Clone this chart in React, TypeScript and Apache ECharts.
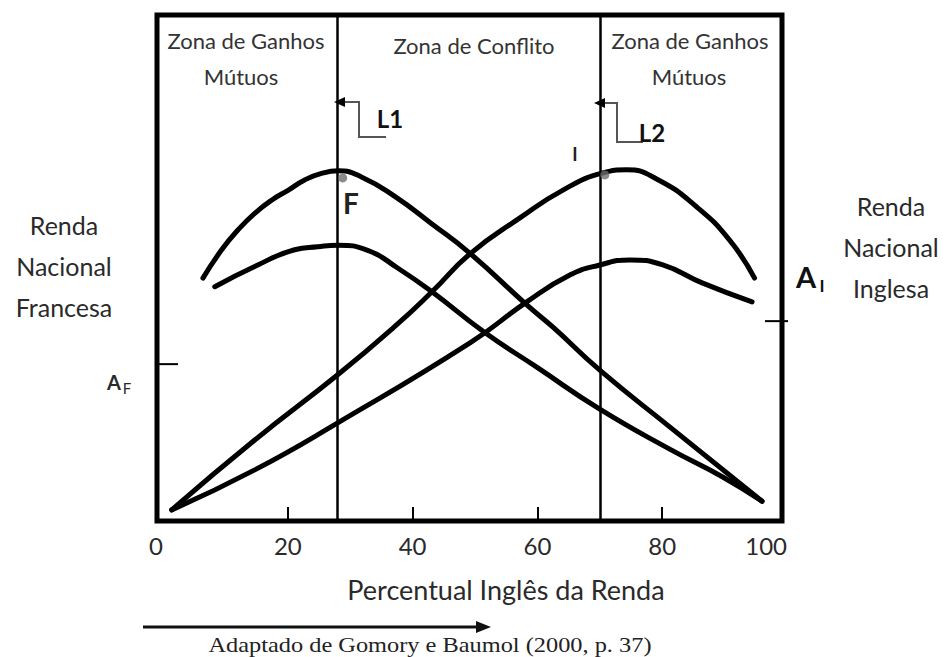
import React, { useEffect, useRef } from "react";
import * as echarts from "echarts";

// x: Percentual Inglês da Renda (0-100); y: renda nacional (arbitrary units 0-100)
const X_TICKS = [20, 40, 60, 80];
const X_LABELS = [0, 20, 40, 60, 80, 100];

const FR_UPPER: number[][] = [
  [6.4, 48.0], [9.4, 53.6], [12.0, 57.5], [14.7, 60.8], [17.4, 63.4], [20.1, 65.4],
  [22.7, 67.4], [25.4, 68.7], [28.1, 69.2], [31.8, 68.0], [37.2, 64.1], [43.0, 58.8],
  [49.2, 52.9], [58.3, 42.7], [62.5, 38.3], [70.0, 29.8], [81.2, 18.6], [96.0, 3.9],
];
const FR_LOWER: number[][] = [
  [8.3, 46.3], [14.7, 50.3], [21.1, 53.6], [24.8, 54.2], [28.0, 54.5], [32.8, 53.5],
  [37.6, 50.0], [43.1, 45.3], [51.4, 37.4], [59.9, 30.4], [70.0, 22.1], [81.2, 14.2],
  [89.7, 8.7], [96.0, 3.9],
];
const EN_UPPER: number[][] = [
  [1.4, 2.2], [14.7, 16.0], [28.0, 28.9], [37.2, 38.5], [43.1, 45.3], [49.2, 52.8],
  [57.2, 59.9], [64.1, 65.4], [70.5, 68.8], [74.3, 69.4], [79.1, 67.6], [85.5, 62.1],
  [90.8, 55.5], [94.8, 48.0],
];
const EN_LOWER: number[][] = [
  [1.4, 2.2], [14.7, 10.1], [28.0, 19.4], [49.2, 35.2], [58.3, 43.3], [65.2, 48.6],
  [70.0, 50.6], [74.8, 51.6], [80.1, 50.6], [86.5, 47.0], [94.4, 43.3],
];
const LIMITS = [28, 70]; // L1, L2
const POINT_F = [28.8, 67.8];
const POINT_I = [70.8, 68.4];
const A_F = 31.0;
const A_I = 39.5;

const FONT = "Lato";
const TXT = "#2a2a2a";

function curve(name: string, data: number[][]) {
  return {
    name,
    type: "line",
    data,
    smooth: 0.5,
    symbol: "none",
    lineStyle: { color: "#000", width: 5, cap: "round", join: "round" },
    z: 3,
  };
}

function txt(text: string, x: number, y: number, size: number, extra: any = {}, el: any = {}) {
  return {
    type: "text",
    x,
    y,
    z: 10,
    ...el,
    style: {
      text,
      fill: TXT,
      fontSize: size,
      fontFamily: FONT,
      align: "center",
      verticalAlign: "middle",
      ...extra,
    },
  };
}

const option: any = {
  animation: false,
  backgroundColor: "#fff",
  grid: { left: 163, right: 157, top: 15, bottom: 136 },
  xAxis: {
    type: "value",
    min: 0,
    max: 100,
    interval: 20,
    axisLine: { show: false },
    splitLine: { show: false },
    axisTick: {
      show: true,
      inside: true,
      length: 14,
      customValues: X_TICKS,
      lineStyle: { color: "#000", width: 2 },
    },
    axisLabel: {
      customValues: X_LABELS,
      margin: 12,
      fontSize: 24,
      fontFamily: FONT,
      color: TXT,
      alignMinLabel: "right",
      alignMaxLabel: "right",
    },
  },
  yAxis: { type: "value", min: 0, max: 100, show: false },
  series: [
    curve("Renda Francesa (alta)", FR_UPPER),
    curve("Renda Francesa (baixa)", FR_LOWER),
    curve("Renda Inglesa (alta)", EN_UPPER),
    curve("Renda Inglesa (baixa)", EN_LOWER),
    {
      type: "line",
      data: [],
      markLine: {
        silent: true,
        symbol: "none",
        label: { show: false },
        lineStyle: { color: "#000", width: 2.5, type: "solid" },
        data: LIMITS.map((v) => ({ xAxis: v })),
      },
      z: 2,
    },
    {
      type: "scatter",
      data: [POINT_F, POINT_I],
      symbolSize: 9,
      itemStyle: { color: "#6e6e6e" },
      z: 5,
    },
  ],
  graphic: [
    {
      type: "rect",
      z: 4,
      shape: { x: 157, y: 15, width: 625, height: 506 },
      style: { fill: "none", stroke: "#000", lineWidth: 5 },
    },
    txt("Zona de Ganhos", 246, 40, 22, { fill: "#333" }),
    txt("Mútuos", 241, 76, 22, { fill: "#333" }),
    txt("Zona de Conflito", 474, 45, 22, { fill: "#333" }),
    txt("Zona de Ganhos", 690, 40, 22, { fill: "#333" }),
    txt("Mútuos", 689, 76, 22, { fill: "#333" }),
    txt("Renda\nNacional\nFrancesa", 64, 266, 25, { lineHeight: 41 }),
    txt("Renda\nNacional\nInglesa", 891, 247, 25, { lineHeight: 41 }),
    txt("A", 114, 382, 20, { fontWeight: "bold" }),
    txt("F", 127, 388, 15),
    txt("A", 806, 276, 29, { fontWeight: "bold", fill: "#111" }),
    txt("I", 822, 285, 17, { fontWeight: "bold", fill: "#111" }),
    txt("F", 351, 203, 28, { fontWeight: "bold", fill: "#222" }),
    txt("I", 575, 154, 18, { fontWeight: "bold", fill: "#222" }),
    txt("L1", 390, 118, 24, { fontWeight: "bold", fill: "#111" }),
    txt("L2", 652, 132, 24, { fontWeight: "bold", fill: "#111" }),
    {
      type: "polyline",
      z: 9,
      shape: { points: [[344, 102], [359, 102], [359, 137], [386, 137]] },
      style: { stroke: "#555", lineWidth: 2, fill: "none" },
    },
    {
      type: "polygon",
      z: 9,
      shape: { points: [[334, 102], [345, 97], [345, 107]] },
      style: { fill: "#000" },
    },
    {
      type: "polyline",
      z: 9,
      shape: { points: [[604, 103], [617, 103], [617, 142], [643, 142]] },
      style: { stroke: "#555", lineWidth: 2, fill: "none" },
    },
    {
      type: "polygon",
      z: 9,
      shape: { points: [[594, 103], [605, 98], [605, 108]] },
      style: { fill: "#000" },
    },
    txt("Percentual Inglês da Renda", 506, 589, 27),
    {
      type: "line",
      z: 9,
      shape: { x1: 143, y1: 627, x2: 478, y2: 627 },
      style: { stroke: "#111", lineWidth: 3 },
    },
    {
      type: "polygon",
      z: 9,
      shape: { points: [[491, 627], [476, 621], [476, 633]] },
      style: { fill: "#111" },
    },
    txt(
      "Adaptado de Gomory e Baumol (2000, p. 37)",
      430,
      645,
      21,
      { fontFamily: "Liberation Serif", fill: "#222" },
      { scaleX: 1.16 }
    ),
  ],
};

export default function App() {
  const ref = useRef<HTMLDivElement>(null);
  useEffect(() => {
    const chart = echarts.init(ref.current!, null, { renderer: "svg" });
    chart.setOption(option);
    // reference ticks A_F (left frame, inside) and A_I (right frame, crossing)
    const yF = (chart.convertToPixel({ gridIndex: 0 }, [0, A_F]) as number[])[1];
    const yI = (chart.convertToPixel({ gridIndex: 0 }, [0, A_I]) as number[])[1];
    chart.setOption({
      graphic: [
        {
          id: "tickAF",
          type: "line",
          z: 9,
          shape: { x1: 157, y1: yF, x2: 178, y2: yF },
          style: { stroke: "#000", lineWidth: 2 },
        },
        {
          id: "tickAI",
          type: "line",
          z: 9,
          shape: { x1: 765, y1: yI, x2: 788, y2: yI },
          style: { stroke: "#000", lineWidth: 2 },
        },
      ],
    });
    return () => chart.dispose();
  }, []);
  return (
    <div
      ref={ref}
      style={{ position: "fixed", left: 0, top: 0, width: 944, height: 657, background: "#fff" }}
    />
  );
}
